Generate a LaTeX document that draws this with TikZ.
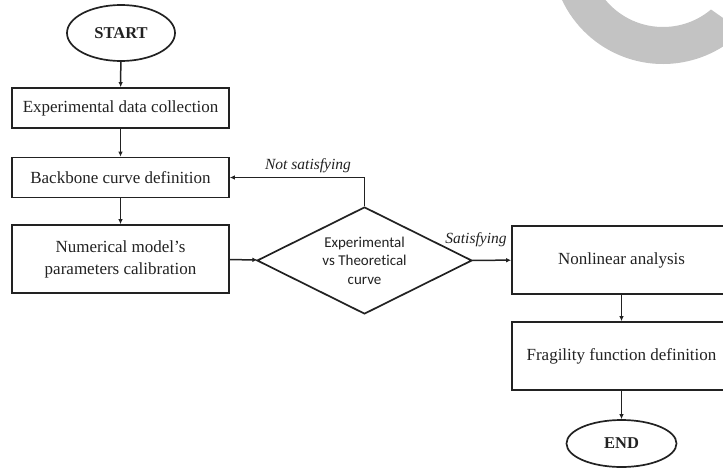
\documentclass[tikz,border=0pt]{standalone}
\usepackage{fontspec}
\setmainfont{Liberation Serif}
\newfontfamily\dsans[Ligatures={NoCommon,NoRare}]{Carlito}
\usetikzlibrary{shapes.geometric,arrows.meta}
\definecolor{ink}{HTML}{222222}
\definecolor{ringgray}{HTML}{C3C3C3}
\tikzset{
  procbox/.style={draw=ink, line width=1.7pt, rectangle, minimum width=217pt, inner sep=0pt, align=center, text=ink, font=\fontsize{17}{22}\selectfont},
  termnode/.style={draw=ink, line width=1.7pt, ellipse, inner sep=0pt, text=ink, font=\fontsize{16.5}{20}\selectfont\bfseries},
  decnode/.style={draw=ink, line width=1.7pt, diamond, inner sep=0pt, minimum width=215pt, minimum height=107pt},
  dectext/.style={align=center, text=ink, font=\dsans\fontsize{15}{18.5}\selectfont},
  edgelabel/.style={text=ink, font=\fontsize{15.5}{18}\selectfont\itshape},
  arr/.style={draw=ink, line width=1.5pt, -{Latex[length=5pt,width=4.5pt]}}
}
\begin{document}
\begin{tikzpicture}[x=1pt,y=1pt]
\useasboundingbox (0,0) rectangle (723,-469);
\clip (0,0) rectangle (723,-469);
\fill[white] (0,0) rectangle (723,-469);
% grey ring overlay
\fill[ringgray] (663,47.7) ++(-50:74.7pt) arc[start angle=-50, end angle=-200, radius=74.7pt]
  -- ++(-200:37pt) arc[start angle=-200, end angle=-45, radius=111.7pt] -- cycle;
% nodes
\node[termnode, minimum width=108pt, minimum height=56pt] (start) at (121,-33) {START};
\node[procbox, minimum height=40pt] (b1) at (120.5,-108) {Experimental data collection};
\node[procbox, minimum height=40pt] (b2) at (120.5,-177.5) {Backbone curve definition};
\node[procbox, minimum height=68pt] (b3) at (120.5,-259) {Numerical model's\\parameters calibration};
\node[decnode] (dia) at (364.5,-260.5) {};
\node[dectext] (diatext) at (364.5,-260.5) {Experimental\\vs Theoretical\\curve};
\node[procbox, minimum width=219pt, minimum height=68pt] (b4) at (621.5,-260) {Nonlinear analysis};
\node[procbox, minimum width=219pt, minimum height=68pt] (b5) at (621.5,-356) {Fragility function definition};
\node[termnode, minimum width=110pt, minimum height=47pt] (end) at (621.5,-443.5) {END};
% labels
\node[edgelabel] (lns) at (308,-166) {Not satisfying};
\node[edgelabel] (ls) at (476,-240) {Satisfying};
% connectors
\draw[arr] (start) -- (b1);
\draw[arr] (b1) -- (b2);
\draw[arr] (b2) -- (b3);
\draw[arr] (b3) -- (dia);
\draw[arr] (dia) -- (b4);
\draw[arr] (dia.north) |- (b2.east);
\draw[arr] (b4) -- (b5);
\draw[arr] (b5) -- (end);
\end{tikzpicture}
\end{document}
